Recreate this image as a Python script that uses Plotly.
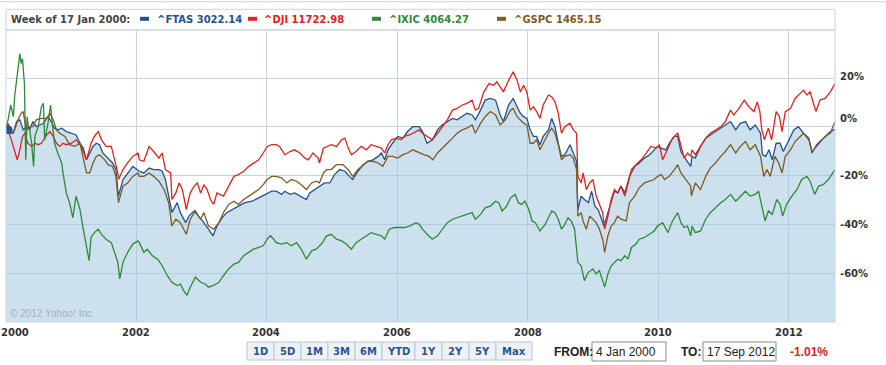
import plotly.graph_objects as go
import pandas as pd

# ---------------- data (percent change vs 4 Jan 2000; time in decimal years) ----------------
FTAS = [(2000.01,0),(2000.04,-1.2),(2000.12,-2.6),(2000.17,2.2),(2000.22,2.9),(2000.27,-1.2),(2000.32,0.1),(2000.37,-1.2),(2000.42,2.2),(2000.47,0.1),(2000.52,0.8),(2000.58,1.5),(2000.65,4.2),(2000.70,2.2),(2000.75,-0.5),(2000.80,-1.2),(2000.86,-0.5),(2000.93,-1.9),(2001.01,-2.6),(2001.08,-3.3),(2001.14,-6.7),(2001.19,-8.7),(2001.24,-13.5),(2001.29,-10.7),(2001.34,-8.0),(2001.39,-6.7),(2001.44,-7.3),(2001.49,-10.7),(2001.57,-12.8),(2001.64,-14.8),(2001.69,-17.5),(2001.73,-28.4),(2001.80,-21.6),(2001.87,-18.9),(2001.95,-16.2),(2002.05,-18.2),(2002.12,-18.9),(2002.20,-16.9),(2002.27,-17.5),(2002.35,-17.5),(2002.40,-18.2),(2002.45,-21.6),(2002.50,-28.4),(2002.55,-35.2),(2002.63,-31.1),(2002.68,-35.2),(2002.76,-39.3),(2002.81,-36.6),(2002.89,-34.5),(2002.96,-36.6),(2003.04,-39.3),(2003.11,-42.0),(2003.18,-44.7),(2003.24,-40.7),(2003.32,-37.3),(2003.39,-35.2),(2003.47,-33.9),(2003.57,-32.5),(2003.67,-31.1),(2003.78,-30.5),(2003.88,-29.1),(2003.98,-27.7),(2004.08,-26.4),(2004.15,-26.4),(2004.23,-27.7),(2004.28,-26.4),(2004.36,-27.7),(2004.43,-27.1),(2004.51,-28.4),(2004.56,-29.1),(2004.61,-29.8),(2004.66,-27.1),(2004.74,-25.7),(2004.81,-24.3),(2004.89,-23.0),(2004.97,-23.0),(2005.04,-19.6),(2005.12,-17.5),(2005.20,-18.2),(2005.27,-20.3),(2005.32,-21.6),(2005.40,-18.2),(2005.48,-15.5),(2005.55,-14.1),(2005.63,-13.5),(2005.71,-12.1),(2005.76,-10.7),(2005.81,-13.5),(2005.86,-9.4),(2005.93,-6.7),(2006.01,-3.9),(2006.09,-4.6),(2006.16,-1.9),(2006.24,0.1),(2006.34,0.1),(2006.39,-1.9),(2006.46,-6.7),(2006.54,-5.3),(2006.62,-1.2),(2006.69,0.8),(2006.77,2.2),(2006.85,3.5),(2006.92,2.9),(2007.00,4.2),(2007.07,5.6),(2007.15,4.9),(2007.20,2.9),(2007.28,6.9),(2007.35,11.0),(2007.43,11.7),(2007.51,11.0),(2007.58,4.9),(2007.63,2.2),(2007.71,9.0),(2007.78,11.7),(2007.84,8.3),(2007.89,5.6),(2007.94,4.2),(2007.99,3.5),(2008.04,-1.2),(2008.09,-3.9),(2008.14,-3.9),(2008.19,-7.3),(2008.24,-3.9),(2008.32,-1.2),(2008.37,3.5),(2008.42,0.1),(2008.47,-6.7),(2008.52,-12.1),(2008.57,-11.4),(2008.65,-7.3),(2008.70,-10.7),(2008.75,-14.1),(2008.77,-33.9),(2008.82,-28.4),(2008.87,-29.8),(2008.93,-31.1),(2008.98,-26.4),(2009.03,-32.5),(2009.08,-33.9),(2009.13,-37.9),(2009.17,-40.7),(2009.23,-35.2),(2009.28,-31.1),(2009.33,-26.4),(2009.38,-27.1),(2009.43,-24.3),(2009.49,-27.1),(2009.56,-20.3),(2009.64,-16.2),(2009.71,-14.8),(2009.79,-12.8),(2009.87,-11.4),(2009.94,-9.4),(2009.99,-8.0),(2010.05,-8.7),(2010.12,-9.4),(2010.17,-6.7),(2010.25,-3.9),(2010.30,-3.9),(2010.35,-10.1),(2010.43,-13.5),(2010.50,-16.2),(2010.52,-12.1),(2010.57,-12.8),(2010.65,-8.0),(2010.73,-4.6),(2010.80,-3.3),(2010.88,-1.9),(2010.96,-0.5),(2011.03,0.8),(2011.11,2.2),(2011.19,-1.2),(2011.26,1.5),(2011.34,2.2),(2011.41,-1.2),(2011.49,0.8),(2011.57,-2.6),(2011.60,-11.4),(2011.65,-12.1),(2011.70,-9.4),(2011.75,-13.5),(2011.81,-6.7),(2011.87,-6.7),(2011.92,-10.1),(2012.00,-5.3),(2012.08,-1.2),(2012.15,0.1),(2012.23,-2.6),(2012.31,-4.6),(2012.36,-10.7),(2012.43,-7.3),(2012.51,-5.3),(2012.59,-3.3),(2012.64,-1.9),(2012.71,-1.0)]

DJI = [(2000.01,0),(2000.04,-1.2),(2000.09,-5.3),(2000.14,-9.4),(2000.18,-13.5),(2000.22,-9.4),(2000.26,-3.9),(2000.30,-2.6),(2000.34,-6.7),(2000.40,-8.0),(2000.45,-6.7),(2000.50,-7.3),(2000.55,-6.7),(2000.63,-3.3),(2000.68,-1.9),(2000.73,-3.9),(2000.78,-6.7),(2000.83,-8.0),(2000.88,-6.7),(2000.93,-7.3),(2001.01,-6.7),(2001.08,-5.3),(2001.16,-8.0),(2001.24,-13.5),(2001.31,-6.7),(2001.36,-3.9),(2001.42,-1.9),(2001.47,-5.3),(2001.54,-8.0),(2001.62,-8.0),(2001.67,-13.5),(2001.72,-18.9),(2001.73,-21.6),(2001.80,-17.5),(2001.87,-14.8),(2001.95,-12.1),(2002.03,-10.7),(2002.05,-13.5),(2002.12,-14.1),(2002.20,-8.0),(2002.27,-10.1),(2002.35,-12.8),(2002.40,-10.7),(2002.45,-17.5),(2002.53,-18.9),(2002.55,-29.8),(2002.61,-27.1),(2002.66,-23.0),(2002.71,-25.7),(2002.77,-33.9),(2002.83,-27.1),(2002.89,-24.3),(2002.94,-23.0),(2002.99,-27.1),(2003.04,-23.7),(2003.09,-25.7),(2003.14,-29.8),(2003.19,-31.8),(2003.24,-27.1),(2003.29,-27.7),(2003.34,-28.4),(2003.42,-24.3),(2003.50,-20.3),(2003.57,-19.6),(2003.65,-18.2),(2003.73,-16.2),(2003.80,-14.8),(2003.88,-13.5),(2003.95,-10.7),(2004.01,-8.0),(2004.08,-7.3),(2004.15,-7.3),(2004.20,-8.0),(2004.28,-11.4),(2004.36,-10.1),(2004.43,-9.4),(2004.51,-10.7),(2004.59,-12.8),(2004.64,-13.5),(2004.71,-10.7),(2004.79,-12.8),(2004.81,-14.8),(2004.87,-8.7),(2004.94,-8.0),(2004.99,-7.3),(2005.07,-8.0),(2005.15,-5.3),(2005.20,-4.6),(2005.25,-8.7),(2005.30,-11.4),(2005.37,-10.1),(2005.45,-8.0),(2005.53,-9.4),(2005.60,-7.3),(2005.68,-8.0),(2005.76,-8.7),(2005.81,-10.7),(2005.86,-7.3),(2005.91,-5.3),(2005.99,-4.6),(2006.06,-5.3),(2006.11,-3.9),(2006.19,-3.3),(2006.29,-1.9),(2006.34,-1.2),(2006.39,-2.6),(2006.46,-3.9),(2006.54,-5.3),(2006.62,-2.6),(2006.69,0.1),(2006.77,2.9),(2006.85,6.9),(2006.92,7.6),(2007.00,9.0),(2007.07,9.7),(2007.15,11.0),(2007.20,6.9),(2007.25,7.6),(2007.33,14.4),(2007.41,17.8),(2007.48,17.1),(2007.53,18.5),(2007.58,16.5),(2007.63,14.4),(2007.71,19.2),(2007.78,22.6),(2007.84,19.2),(2007.89,14.4),(2007.94,17.1),(2007.99,14.4),(2008.04,6.9),(2008.09,8.3),(2008.14,6.3),(2008.19,3.5),(2008.24,9.0),(2008.32,13.1),(2008.37,12.4),(2008.42,10.3),(2008.47,5.6),(2008.52,-2.6),(2008.57,0.1),(2008.65,1.5),(2008.70,-1.2),(2008.75,-2.6),(2008.77,-20.3),(2008.82,-23.0),(2008.85,-18.9),(2008.90,-25.7),(2008.95,-23.0),(2009.00,-21.6),(2009.05,-28.4),(2009.10,-31.8),(2009.15,-35.2),(2009.18,-42.0),(2009.23,-36.6),(2009.28,-29.8),(2009.33,-25.7),(2009.38,-27.1),(2009.43,-24.3),(2009.49,-28.4),(2009.54,-23.0),(2009.59,-17.5),(2009.66,-15.5),(2009.74,-13.5),(2009.82,-10.7),(2009.89,-8.0),(2009.97,-8.7),(2010.02,-7.3),(2010.07,-13.5),(2010.15,-8.7),(2010.22,-4.6),(2010.30,-2.6),(2010.35,-8.0),(2010.40,-12.8),(2010.45,-10.7),(2010.50,-12.1),(2010.52,-9.4),(2010.57,-11.4),(2010.65,-8.0),(2010.73,-4.6),(2010.80,-2.6),(2010.88,-1.2),(2010.96,0.1),(2011.03,2.2),(2011.11,6.9),(2011.16,4.9),(2011.24,7.6),(2011.32,11.0),(2011.39,8.3),(2011.47,6.3),(2011.52,10.3),(2011.56,6.3),(2011.59,-1.2),(2011.63,-5.3),(2011.69,-0.5),(2011.74,-5.3),(2011.81,6.3),(2011.86,4.2),(2011.90,-1.9),(2011.95,6.3),(2012.03,7.6),(2012.10,11.7),(2012.18,13.7),(2012.23,15.1),(2012.28,13.1),(2012.33,14.4),(2012.38,9.7),(2012.42,6.3),(2012.48,11.0),(2012.56,11.7),(2012.64,14.4),(2012.71,17.8)]

IXIC = [(2000.01,0),(2000.04,2.9),(2000.08,9.0),(2000.12,4.2),(2000.14,12.4),(2000.18,20.5),(2000.22,30.1),(2000.24,26.0),(2000.26,28.0),(2000.29,17.8),(2000.31,-13.5),(2000.33,4.2),(2000.35,0.1),(2000.37,-1.2),(2000.40,-6.7),(2000.43,-16.2),(2000.45,-3.9),(2000.50,0.1),(2000.55,8.3),(2000.58,9.7),(2000.60,-5.3),(2000.65,1.5),(2000.69,9.0),(2000.71,2.9),(2000.75,-6.7),(2000.80,-10.7),(2000.86,-14.8),(2000.88,-18.9),(2000.93,-27.1),(2000.98,-31.1),(2001.03,-37.3),(2001.08,-28.4),(2001.14,-33.9),(2001.19,-42.0),(2001.24,-50.2),(2001.28,-54.9),(2001.31,-45.4),(2001.36,-43.4),(2001.42,-42.0),(2001.47,-44.1),(2001.54,-46.1),(2001.62,-47.5),(2001.67,-51.5),(2001.72,-55.6),(2001.75,-62.4),(2001.80,-55.6),(2001.87,-51.5),(2001.95,-48.1),(2002.03,-46.8),(2002.05,-47.5),(2002.12,-51.5),(2002.17,-50.2),(2002.25,-52.9),(2002.33,-54.3),(2002.40,-57.0),(2002.48,-61.1),(2002.55,-63.8),(2002.63,-65.1),(2002.68,-64.5),(2002.73,-67.2),(2002.78,-69.2),(2002.83,-65.8),(2002.91,-61.7),(2002.99,-63.8),(2003.06,-64.5),(2003.11,-65.8),(2003.19,-65.1),(2003.27,-63.8),(2003.34,-61.1),(2003.42,-58.3),(2003.50,-56.3),(2003.57,-55.6),(2003.65,-52.9),(2003.73,-51.5),(2003.80,-50.2),(2003.88,-49.5),(2003.95,-48.8),(2004.01,-46.1),(2004.06,-44.7),(2004.11,-46.1),(2004.15,-47.5),(2004.23,-48.1),(2004.31,-47.5),(2004.38,-48.8),(2004.46,-47.5),(2004.53,-50.2),(2004.61,-54.3),(2004.69,-50.9),(2004.76,-50.2),(2004.84,-48.1),(2004.92,-44.7),(2004.99,-44.1),(2005.07,-46.1),(2005.15,-46.8),(2005.22,-48.1),(2005.30,-50.2),(2005.37,-47.5),(2005.45,-46.1),(2005.53,-44.7),(2005.60,-43.4),(2005.68,-44.1),(2005.76,-44.7),(2005.81,-46.1),(2005.88,-42.0),(2005.96,-41.3),(2006.04,-41.3),(2006.11,-41.3),(2006.19,-40.7),(2006.29,-39.3),(2006.34,-40.0),(2006.39,-42.0),(2006.46,-44.1),(2006.54,-46.1),(2006.62,-44.7),(2006.69,-42.0),(2006.77,-39.3),(2006.85,-37.9),(2006.92,-37.3),(2007.00,-36.6),(2007.07,-35.9),(2007.15,-35.2),(2007.20,-37.9),(2007.28,-35.9),(2007.35,-33.2),(2007.43,-32.5),(2007.51,-30.5),(2007.56,-31.1),(2007.61,-34.5),(2007.68,-32.5),(2007.74,-29.1),(2007.81,-27.7),(2007.86,-31.1),(2007.91,-31.8),(2007.96,-30.5),(2008.02,-33.9),(2008.07,-38.6),(2008.12,-39.3),(2008.19,-42.7),(2008.27,-40.0),(2008.32,-37.3),(2008.37,-34.5),(2008.42,-35.2),(2008.47,-37.9),(2008.52,-42.0),(2008.57,-40.0),(2008.62,-37.3),(2008.67,-38.6),(2008.72,-42.0),(2008.77,-55.6),(2008.82,-57.0),(2008.87,-63.1),(2008.93,-59.7),(2009.00,-58.3),(2009.05,-60.4),(2009.10,-59.0),(2009.18,-65.8),(2009.23,-60.4),(2009.28,-57.0),(2009.33,-55.6),(2009.38,-54.3),(2009.43,-54.9),(2009.49,-52.9),(2009.54,-54.3),(2009.59,-49.5),(2009.66,-48.1),(2009.71,-46.1),(2009.79,-45.4),(2009.87,-44.1),(2009.94,-42.7),(2009.99,-40.7),(2010.07,-39.3),(2010.15,-43.4),(2010.22,-38.6),(2010.30,-35.2),(2010.35,-39.3),(2010.40,-41.3),(2010.45,-40.7),(2010.50,-44.7),(2010.52,-40.7),(2010.57,-43.4),(2010.65,-42.7),(2010.73,-37.9),(2010.80,-35.2),(2010.88,-33.2),(2010.96,-31.1),(2011.03,-29.8),(2011.11,-27.7),(2011.19,-30.5),(2011.26,-28.4),(2011.34,-26.4),(2011.41,-28.4),(2011.49,-27.7),(2011.54,-26.4),(2011.59,-32.5),(2011.64,-38.6),(2011.69,-34.5),(2011.75,-35.9),(2011.82,-29.8),(2011.87,-31.8),(2011.91,-36.6),(2011.97,-31.8),(2012.05,-28.4),(2012.13,-25.7),(2012.20,-21.6),(2012.28,-20.3),(2012.33,-22.3),(2012.40,-27.7),(2012.46,-24.3),(2012.53,-23.7),(2012.61,-21.6),(2012.71,-17.5)]

GSPC = [(2000.01,0),(2000.04,1.5),(2000.09,-2.6),(2000.14,-1.2),(2000.19,2.9),(2000.24,5.6),(2000.27,6.3),(2000.32,-1.2),(2000.37,0.1),(2000.42,0.1),(2000.47,2.9),(2000.55,3.5),(2000.63,3.5),(2000.68,5.6),(2000.73,2.9),(2000.78,-1.2),(2000.83,-2.6),(2000.91,-3.9),(2000.98,-7.3),(2001.06,-8.0),(2001.14,-6.7),(2001.19,-13.5),(2001.24,-18.9),(2001.29,-18.9),(2001.34,-14.8),(2001.39,-12.1),(2001.44,-11.4),(2001.52,-13.5),(2001.57,-15.5),(2001.64,-16.2),(2001.69,-20.3),(2001.73,-31.1),(2001.80,-24.3),(2001.87,-23.0),(2001.95,-20.3),(2002.03,-18.9),(2002.05,-20.3),(2002.12,-20.3),(2002.20,-18.9),(2002.27,-20.3),(2002.35,-22.3),(2002.43,-25.7),(2002.50,-31.1),(2002.55,-40.7),(2002.61,-37.9),(2002.68,-39.3),(2002.77,-44.1),(2002.83,-37.9),(2002.91,-34.5),(2002.99,-37.9),(2003.04,-35.2),(2003.11,-40.7),(2003.19,-42.0),(2003.27,-39.3),(2003.34,-35.2),(2003.42,-31.8),(2003.50,-30.5),(2003.57,-31.8),(2003.65,-29.8),(2003.73,-28.4),(2003.80,-27.1),(2003.88,-25.7),(2003.95,-23.7),(2004.01,-21.6),(2004.08,-20.3),(2004.15,-20.3),(2004.23,-20.9),(2004.31,-23.0),(2004.38,-21.6),(2004.46,-22.3),(2004.53,-23.7),(2004.61,-25.7),(2004.69,-23.0),(2004.76,-22.3),(2004.81,-23.0),(2004.87,-18.9),(2004.92,-17.5),(2004.99,-17.5),(2005.07,-15.5),(2005.17,-15.5),(2005.25,-17.5),(2005.32,-20.3),(2005.40,-17.5),(2005.48,-15.5),(2005.55,-14.1),(2005.63,-14.1),(2005.71,-14.8),(2005.78,-16.2),(2005.86,-12.1),(2005.93,-12.1),(2006.01,-12.8),(2006.09,-11.4),(2006.16,-10.7),(2006.24,-9.4),(2006.34,-10.7),(2006.41,-11.4),(2006.49,-12.1),(2006.55,-13.5),(2006.62,-10.7),(2006.69,-8.7),(2006.77,-6.7),(2006.85,-4.6),(2006.92,-2.6),(2007.00,-1.2),(2007.07,-0.5),(2007.15,0.8),(2007.20,-2.6),(2007.28,1.5),(2007.35,4.2),(2007.43,6.3),(2007.51,4.9),(2007.58,0.8),(2007.66,2.9),(2007.74,6.9),(2007.78,7.6),(2007.84,4.2),(2007.89,2.9),(2007.94,1.5),(2007.99,0.8),(2008.04,-6.7),(2008.09,-6.7),(2008.14,-5.3),(2008.19,-9.4),(2008.24,-6.7),(2008.32,-2.6),(2008.37,-0.5),(2008.42,-2.6),(2008.47,-7.3),(2008.52,-13.5),(2008.57,-12.1),(2008.65,-11.4),(2008.70,-12.8),(2008.75,-17.5),(2008.77,-36.6),(2008.82,-35.2),(2008.85,-38.6),(2008.90,-42.0),(2008.95,-36.6),(2009.00,-37.9),(2009.05,-39.3),(2009.10,-42.0),(2009.15,-46.1),(2009.18,-51.5),(2009.23,-44.7),(2009.28,-40.7),(2009.33,-39.3),(2009.38,-36.6),(2009.43,-37.9),(2009.51,-38.6),(2009.56,-31.1),(2009.64,-28.4),(2009.71,-25.0),(2009.79,-23.0),(2009.87,-22.3),(2009.94,-21.6),(2009.99,-20.3),(2010.05,-19.6),(2010.10,-21.6),(2010.17,-20.3),(2010.25,-17.5),(2010.30,-15.5),(2010.35,-18.9),(2010.43,-21.6),(2010.50,-24.3),(2010.51,-28.4),(2010.57,-23.0),(2010.65,-25.7),(2010.73,-20.3),(2010.80,-16.9),(2010.88,-14.8),(2010.96,-12.1),(2011.03,-10.1),(2011.11,-7.3),(2011.19,-10.7),(2011.26,-8.0),(2011.34,-6.0),(2011.41,-9.4),(2011.49,-7.3),(2011.57,-12.1),(2011.62,-20.3),(2011.67,-17.5),(2011.72,-20.3),(2011.79,-12.1),(2011.85,-14.8),(2011.90,-18.9),(2011.95,-12.1),(2012.03,-9.4),(2012.10,-6.0),(2012.18,-3.9),(2012.23,-2.6),(2012.31,-5.3),(2012.36,-10.1),(2012.43,-8.0),(2012.51,-5.3),(2012.59,-3.3),(2012.64,-2.6),(2012.71,2.2)]

SYMBOLS = ["^FTAS", "^DJI", "^IXIC", "^GSPC"]
QUOTES = ["3022.14", "11722.98", "4064.27", "1465.15"]
HOVER_WEEK = "17 Jan 2000"
HOVER_INDEX = 1                        # point of the main series under the cursor
XTICK_YEARS = [2000, 2002, 2004, 2006, 2008, 2010, 2012]
YTICK_VALS = [20, 0, -20, -40, -60]
YTICK_TEXT = ["20%", "0%", "-20%", "-40%", "-60%"]
Y_GRID = [-80, -60, -40, -20, 0, 20]
RANGE_BUTTONS = ["1D", "5D", "1M", "3M", "6M", "YTD", "1Y", "2Y", "5Y", "Max"]
FROM_DATE, TO_DATE, CHANGE = "4 Jan 2000", "17 Sep 2012", "-1.01%"
X_START, X_END = "2000-01-04", "2012-09-17"
Y_RANGE = [-80.1, 39.8]

# ---------------- styles ----------------
COLORS = ["#24528c", "#e3211c", "#2e8a37", "#7d5b25"]
GRID = "#c4d6e5"
VERD = "DejaVu Sans, Verdana, sans-serif"
ARIAL = "Liberation Sans, Arial, sans-serif"
W, H = 886, 365
L, R, T, B = 6, 835, 30, 322


def to_date(t):
    y = int(t)
    a, b = pd.Timestamp(y, 1, 1), pd.Timestamp(y + 1, 1, 1)
    return a + (b - a) * (t - y)


def px(x):
    return (x - L) / (R - L)


def py(y):
    return (B - y) / (B - T)


def unzip(s):
    return [to_date(t) for t, _ in s], [v for _, v in s]


fig = go.Figure()
series = [FTAS, DJI, IXIC, GSPC]

fx, fy = unzip(FTAS)
fig.add_trace(go.Scatter(x=fx, y=[Y_RANGE[0]] * len(fx), mode="lines",
                         line=dict(width=0, color="rgba(0,0,0,0)"), hoverinfo="skip"))
fig.add_trace(go.Scatter(x=fx, y=fy, mode="lines", fill="tonexty",
                         fillcolor="rgba(156,194,221,0.5)",
                         line=dict(color=COLORS[0], width=1.3)))
for s, c in zip(series[1:], COLORS[1:]):
    xs, ys = unzip(s)
    fig.add_trace(go.Scatter(x=xs, y=ys, mode="lines", line=dict(color=c, width=1.3)))
fig.add_trace(go.Scatter(x=[fx[HOVER_INDEX]], y=[fy[HOVER_INDEX]], mode="markers",
                         marker=dict(color=COLORS[0], size=9)))

shapes = []
ann = []

# page top rule and header box
shapes.append(dict(type="line", xref="paper", yref="paper", x0=px(0), x1=px(W), y0=py(1.7), y1=py(1.7),
                   line=dict(color="#cfcfcf", width=1)))
shapes.append(dict(type="rect", xref="paper", yref="paper", x0=0, x1=1, y0=1, y1=py(9.3),
                   line=dict(color="#cbd3db", width=1), fillcolor="white"))
# plot border
shapes.append(dict(type="rect", xref="paper", yref="paper", x0=0, x1=1, y0=0, y1=1,
                   line=dict(color=GRID, width=1)))

# header legend
ann.append(dict(text="Week of %s:" % HOVER_WEEK, xref="paper", yref="paper", x=px(9), y=py(19.3),
                xanchor="left", yanchor="middle", showarrow=False,
                font=dict(family=VERD, size=10, color="#444", weight="bold")))
sw_x = [140, 248, 372, 497]
tx_x = [155, 262, 387, 512]
for sym, q, c, sx, tx in zip(SYMBOLS, QUOTES, COLORS, sw_x, tx_x):
    shapes.append(dict(type="rect", xref="paper", yref="paper", x0=px(sx), x1=px(sx + 9),
                       y0=py(16.8), y1=py(20.8), line=dict(width=0), fillcolor=c))
    ann.append(dict(text="%s %s" % (sym, q), xref="paper", yref="paper", x=px(tx), y=py(19.3),
                    xanchor="left", yanchor="middle", showarrow=False,
                    font=dict(family=VERD, size=10, color=c, weight="bold")))

# y tick labels on the right
yshift = {20: 2, 0: 8}
for v, t in zip(YTICK_VALS, YTICK_TEXT):
    ann.append(dict(text=t, xref="paper", yref="y", x=px(838), y=v, yshift=yshift.get(v, 0),
                    xanchor="left", yanchor="middle", showarrow=False,
                    font=dict(family=VERD, size=10, color="#333", weight="bold")))

# x tick labels (first one is pushed inside the page)
for i, yr in enumerate(XTICK_YEARS):
    if i == 0:
        a = dict(xref="paper", x=px(-1), xanchor="left")
    else:
        a = dict(xref="x", x="%d-01-01" % yr, xanchor="center")
    a.update(text=str(yr), yref="paper", y=py(332.5), yanchor="middle", showarrow=False,
             font=dict(family=VERD, size=10, color="#333", weight="bold"))
    ann.append(a)

# copyright
ann.append(dict(text="© 2012 Yahoo! Inc.", xref="paper", yref="paper", x=px(8), y=py(313),
                xanchor="left", yanchor="middle", showarrow=False,
                font=dict(family=ARIAL, size=10, color="#a7b1ba")))

# range buttons
bw = [27, 27, 27, 27, 27, 33, 27, 27, 27, 36]
x0 = 247
for lab, w in zip(RANGE_BUTTONS, bw):
    shapes.append(dict(type="rect", xref="paper", yref="paper", x0=px(x0), x1=px(x0 + w),
                       y0=py(342), y1=py(360), line=dict(color="#b9c6d4", width=1), fillcolor="#eef2f7"))
    ann.append(dict(text=lab, xref="paper", yref="paper", x=px(x0 + w / 2), y=py(351.5),
                    xanchor="center", yanchor="middle", showarrow=False,
                    font=dict(family=VERD, size=10, color="#2a5590", weight="bold")))
    x0 += w

# from / to boxes
for lab, lx, bx0, bx1, val in [("FROM:", 553, 592, 666, FROM_DATE), ("TO:", 680, 703, 776, TO_DATE)]:
    ann.append(dict(text=lab, xref="paper", yref="paper", x=px(lx - 1), y=py(351.5),
                    xanchor="left", yanchor="middle", showarrow=False,
                    font=dict(family=ARIAL, size=12, color="#222", weight="bold")))
    shapes.append(dict(type="rect", xref="paper", yref="paper", x0=px(bx0), x1=px(bx1),
                       y0=py(342), y1=py(361), line=dict(color="#8a8a8a", width=1), fillcolor="white"))
    ann.append(dict(text=val, xref="paper", yref="paper", x=px(bx0 + 2), y=py(351.5),
                    xanchor="left", yanchor="middle", showarrow=False,
                    font=dict(family=ARIAL, size=12, color="#222")))
ann.append(dict(text=CHANGE, xref="paper", yref="paper", x=px(788), y=py(351.5),
                xanchor="left", yanchor="middle", showarrow=False,
                font=dict(family=ARIAL, size=12, color="#e3211c", weight="bold")))

fig.update_layout(
    width=W, height=H, margin=dict(l=L, r=W - R, t=T, b=H - B),
    paper_bgcolor="white", plot_bgcolor="white", showlegend=False,
    shapes=shapes, annotations=ann, hovermode=False,
    xaxis=dict(type="date", range=[X_START, X_END],
               tickvals=["%d-01-01" % y for y in XTICK_YEARS[1:]],
               showticklabels=False,
               showgrid=True, gridcolor=GRID, gridwidth=1, ticks="", zeroline=False, showline=False),
    yaxis=dict(range=Y_RANGE, tickvals=Y_GRID, showticklabels=False, showgrid=True,
               gridcolor=GRID, gridwidth=1, zeroline=False, showline=False, ticks=""),
)

fig.write_html("out.html", config={"displayModeBar": False})
